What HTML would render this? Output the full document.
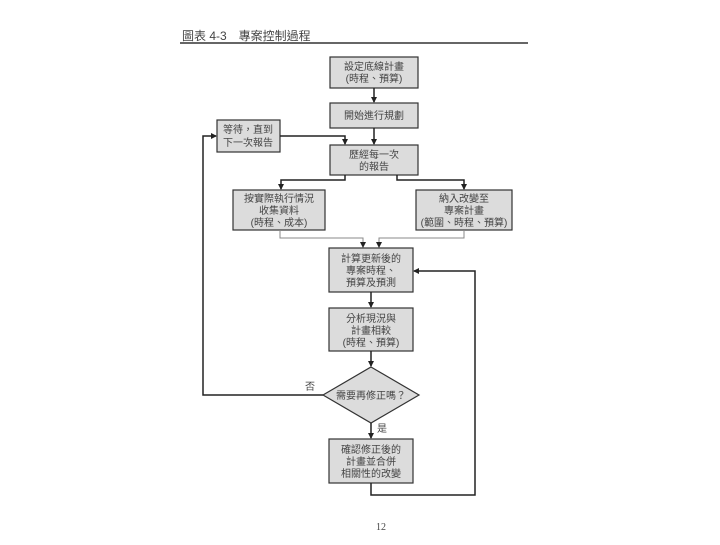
<!DOCTYPE html>
<html><head><meta charset="utf-8"><style>
body{margin:0;background:#fff;}
svg text{font-family:"Liberation Sans","Noto Sans CJK TC",sans-serif;fill:#444;}
</style></head><body>
<svg width="720" height="540" viewBox="0 0 720 540" xmlns="http://www.w3.org/2000/svg">
<defs><marker id="a" markerWidth="6" markerHeight="6" refX="5" refY="3" orient="auto" markerUnits="userSpaceOnUse"><path d="M0,0L6,3L0,6z" fill="#222"/></marker></defs>
<text x="182" y="40" font-size="12" fill="#444">圖表 4-3　專案控制過程</text>
<line x1="180" y1="43" x2="528" y2="43" stroke="#333" stroke-width="1.5"/>
<g fill="#dcdcdc" stroke="#333" stroke-width="1.2">
<rect x="330" y="57" width="88" height="31"/>
<rect x="330" y="103" width="88" height="25"/>
<rect x="217" y="120" width="63" height="32"/>
<rect x="330" y="145" width="88" height="30"/>
<rect x="233" y="190" width="92" height="40"/>
<rect x="416" y="190" width="96" height="40"/>
<rect x="329" y="248" width="84" height="44"/>
<rect x="329" y="308" width="84" height="43"/>
<polygon points="371,367 419,395 371,423 323,395"/>
<rect x="329" y="439" width="84" height="44"/>
</g>
<g stroke="#222" stroke-width="1.5" fill="none">
<line x1="374" y1="88" x2="374" y2="102" marker-end="url(#a)"/>
<line x1="374" y1="128" x2="374" y2="144" marker-end="url(#a)"/>
<polyline points="280,136 345,136 345,144" marker-end="url(#a)"/>
<polyline points="345,175 345,180 281,180 281,189" marker-end="url(#a)"/>
<polyline points="397,175 397,180 464,180 464,189" marker-end="url(#a)"/>
<polyline points="280,230 280,238 363,238 363,247" marker-end="url(#a)" stroke="#888" stroke-width="1"/>
<polyline points="464,230 464,238 379,238 379,247" marker-end="url(#a)" stroke="#888" stroke-width="1"/>
<line x1="371" y1="292" x2="371" y2="307" marker-end="url(#a)"/>
<line x1="371" y1="351" x2="371" y2="366" marker-end="url(#a)"/>
<line x1="371" y1="423" x2="371" y2="438" marker-end="url(#a)"/>
<polyline points="323,395 203,395 203,136 216,136" marker-end="url(#a)"/>
<polyline points="371,483 371,495 475,495 475,271 414,271" marker-end="url(#a)"/>
</g>
<g font-size="10" text-anchor="middle">
<text x="374" y="70">設定底線計畫</text><text x="374" y="82">(時程、預算)</text>
<text x="374" y="119">開始進行規劃</text>
<text x="248" y="133">等待，直到</text><text x="248" y="146">下一次報告</text>
<text x="374" y="158">歷經每一次</text><text x="374" y="170">的報告</text>
<text x="279" y="202">按實際執行情況</text><text x="279" y="214">收集資料</text><text x="279" y="226">(時程、成本)</text>
<text x="464" y="202">納入改變至</text><text x="464" y="214">專案計畫</text><text x="464" y="226">(範圍、時程、預算)</text>
<text x="371" y="262">計算更新後的</text><text x="371" y="274">專案時程、</text><text x="371" y="286">預算及預測</text>
<text x="371" y="322">分析現況與</text><text x="371" y="334">計畫相較</text><text x="371" y="346">(時程、預算)</text>
<text x="371" y="399">需要再修正嗎？</text>
<text x="371" y="453">確認修正後的</text><text x="371" y="465">計畫並合併</text><text x="371" y="477">相關性的改變</text>
</g>
<text x="305" y="390" font-size="10" fill="#222">否</text>
<text x="377" y="432" font-size="10" fill="#222">是</text>
<text x="381" y="530" font-size="10" text-anchor="middle" fill="#222" style="font-family:'Liberation Serif',serif">12</text>
</svg>
</body></html>
